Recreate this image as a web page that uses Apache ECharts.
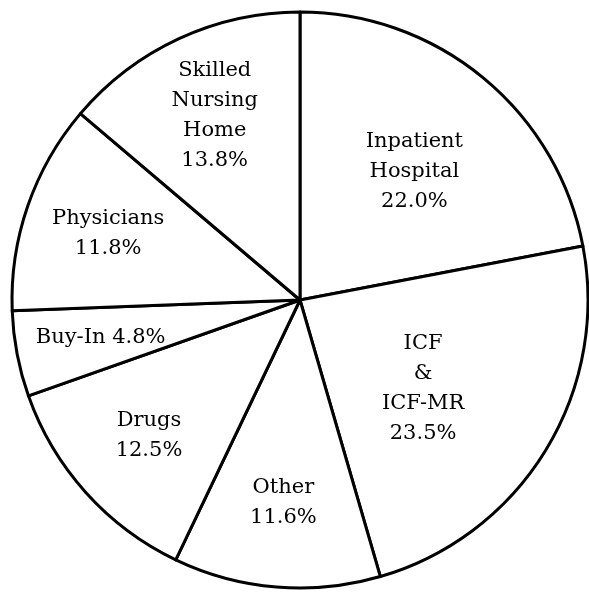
<!DOCTYPE html>
<html>
<head>
<meta charset="utf-8">
<script src="https://cdn.jsdelivr.net/npm/echarts@6/dist/echarts.min.js"></script>
<style>
  html, body { margin: 0; padding: 0; background: #fff; }
  #main { width: 589px; height: 592px; }
</style>
</head>
<body>
<div id="main"></div>
<script>
// slices, clockwise from 12 o'clock
var names = ['Inpatient\nHospital', 'ICF\n&\nICF-MR', 'Other', 'Drugs', 'Buy-In', 'Physicians', 'Skilled\nNursing\nHome'];
var shares = [22.0, 23.5, 11.6, 12.5, 4.8, 11.8, 13.8];

var chart = echarts.init(document.getElementById('main'));

var pieData = names.map(function (n, i) {
    return { name: n, value: shares[i] };
});

//labels of the two big right slices sit nearer the middle
var labelData = pieData.map(function (d) {
    var o = { name: d.name, value: d.value };
    if (d.name.indexOf('Inpatient') == 0) o.label = { padding: [0, 30, 0, 0], offset: [0, 28] };
    if (d.name.indexOf('ICF') == 0) o.label = { padding: [0, 100, 0, 0], offset: [0, -18] };
    return o;
});

var option = {
    animation: false,
    backgroundColor: '#fff',
    series: [
        //slices
        {
            type: 'pie',
            center: [300, 300],
            radius: [0, 288],
            startAngle: 90,
            silent: true,
            label: { show: false },
            labelLine: { show: false },
            itemStyle: {
                color: '#fff',
                borderColor: '#000',
                borderWidth: 3
            },
            data: pieData
        },
        //labels only (ring used to push labels outwards)
        {
            type: 'pie',
            center: [300, 300],
            radius: [112, 288],
            startAngle: 90,
            silent: true,
            itemStyle: { color: 'rgba(0,0,0,0)', borderWidth: 0 },
            labelLine: { show: false },
            label: {
                show: true,
                position: 'inside',
                fontFamily: 'DejaVu Serif',
                fontSize: 21,
                lineHeight: 30,
                color: '#000',
                formatter: function (p) {
                    var v = p.value.toFixed(1) + '%';
                    if (p.name == 'Buy-In') return p.name + ' ' + v;
                    return p.name + '\n' + v;
                }
            },
            data: labelData
        }
    ]
};
chart.setOption(option);
</script>
</body>
</html>
